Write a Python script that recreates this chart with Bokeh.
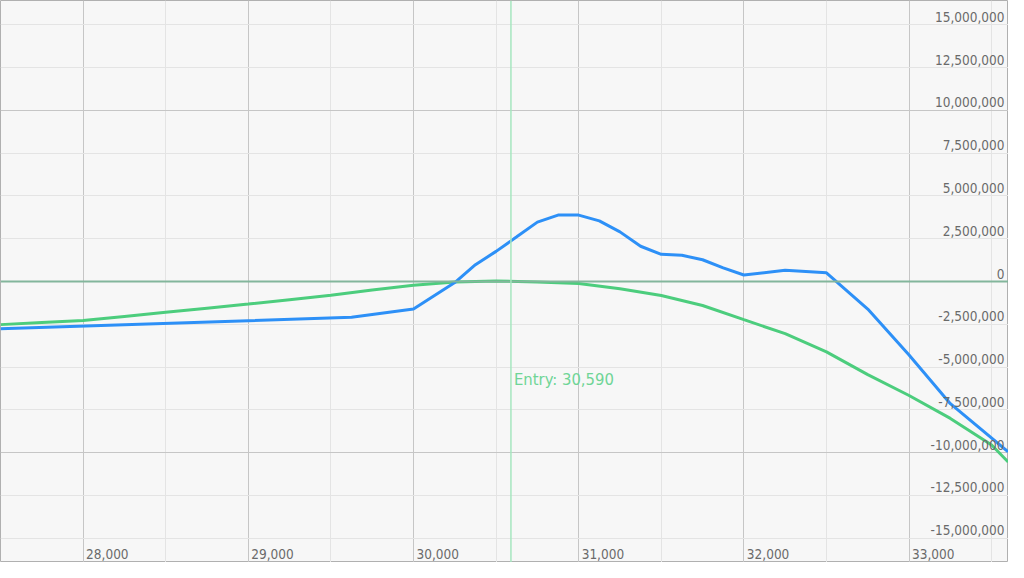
from bokeh.plotting import figure
from bokeh.models import Range1d, Grid, FixedTicker, Span
from bokeh.core.properties import value
from bokeh.embed import file_html
from bokeh.resources import INLINE

# ---- data ----
blue_x = [27500, 29625, 30000, 30250, 30375, 30500, 30625, 30750, 30875, 31000,
          31125, 31250, 31375, 31500, 31625, 31750, 31875, 32000, 32250, 32500,
          32750, 33000, 33250, 33600]
blue_y = [-2.76e6, -2.09e6, -1.61e6, -0.06e6, 0.98e6, 1.76e6, 2.61e6, 3.47e6, 3.88e6, 3.88e6,
          3.54e6, 2.90e6, 2.06e6, 1.59e6, 1.53e6, 1.27e6, 0.80e6, 0.38e6, 0.66e6, 0.51e6,
          -1.61e6, -4.30e6, -7.14e6, -9.95e6]

green_x = [27500, 27750, 28000, 28250, 28500, 28750, 29000, 29250, 29500, 29750,
           30000, 30250, 30500, 30750, 31000, 31250, 31500, 31750, 32000, 32250,
           32500, 32750, 33000, 33250, 33500, 33600]
green_y = [-2.52e6, -2.40e6, -2.28e6, -2.04e6, -1.80e6, -1.56e6, -1.32e6, -1.06e6, -0.80e6, -0.50e6,
           -0.22e6, -0.03e6, 0.03e6, -0.03e6, -0.12e6, -0.42e6, -0.82e6, -1.40e6, -2.23e6, -3.05e6,
           -4.11e6, -5.44e6, -6.66e6, -8.00e6, -9.55e6, -10.55e6]

entry_price = 30590

x_ticks = [28000, 29000, 30000, 31000, 32000, 33000]
x_minor = [27500, 28500, 29500, 30500, 31500, 32500, 33500]
y_ticks = [-15000000, -12500000, -10000000, -7500000, -5000000, -2500000, 0,
           2500000, 5000000, 7500000, 10000000, 12500000, 15000000]
y_major = [-10000000, 0, 10000000]
y_minor = [-15000000, -12500000, -7500000, -5000000, -2500000,
           2500000, 5000000, 7500000, 12500000, 15000000]

# ---- layout / style ----
W, H = 1008, 562
X0, X1 = 27500, 33602
Y0, Y1 = -16.42e6, 16.42e6
ENTRY_LABEL_Y = -6.1e6
FONT = value("DejaVu Sans Condensed")

p = figure(width=W, height=H, output_backend="svg", toolbar_location=None,
           x_range=Range1d(X0, X1), y_range=Range1d(Y0, Y1),
           x_axis_type=None, y_axis_type=None, min_border=0,
           background_fill_color="#f7f7f7", border_fill_color="#f7f7f7",
           outline_line_color="#b0b0b0", outline_line_width=1)

p.add_layout(Grid(dimension=0, ticker=FixedTicker(ticks=x_ticks, minor_ticks=x_minor),
                  grid_line_color="#c6c6c6", grid_line_width=1,
                  minor_grid_line_color="#e4e4e4", minor_grid_line_width=1))
p.add_layout(Grid(dimension=1, ticker=FixedTicker(ticks=y_major, minor_ticks=y_minor),
                  grid_line_color="#c6c6c6", grid_line_width=1,
                  minor_grid_line_color="#e4e4e4", minor_grid_line_width=1))

p.add_layout(Span(location=0, dimension="width", line_color="#83b69c", line_width=2))
p.add_layout(Span(location=entry_price, dimension="height", line_color="#a6e6bf", line_width=1.5))

p.line(green_x, green_y, line_color="#4ccd7d", line_width=3)
p.line(blue_x, blue_y, line_color="#2d90f7", line_width=3)

# tick labels drawn inside the plot area
p.text(x=[X1] * len(y_ticks), y=y_ticks, text=[f"{v:,}" for v in y_ticks],
       text_align="right", text_baseline="alphabetic", x_offset=-4, y_offset=-8,
       text_font=FONT, text_font_size="13.5px", text_color="#6a6a6a")
p.text(x=x_ticks, y=[Y0] * len(x_ticks), text=[f"{v:,}" for v in x_ticks],
       text_align="left", text_baseline="alphabetic", x_offset=3, y_offset=-9,
       text_font=FONT, text_font_size="13.5px", text_color="#6a6a6a")

p.text(x=[entry_price], y=[ENTRY_LABEL_Y], text=[f"Entry: {entry_price:,}"],
       text_align="left", text_baseline="alphabetic", x_offset=3, y_offset=-6,
       text_font=FONT, text_font_size="16.5px", text_color="#6fd596")

open("out.html", "w").write(file_html(p, INLINE))
